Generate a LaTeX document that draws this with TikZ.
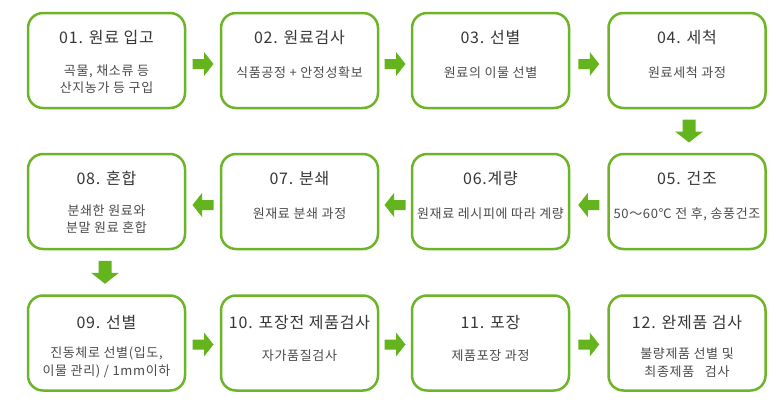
\documentclass[tikz,border=0pt]{standalone}
\usepackage{fontspec}
\setmainfont{Noto Sans CJK KR}
\newfontfamily\ttlfont[LetterSpace=5]{Noto Sans CJK KR}
\newfontfamily\bdyfont[LetterSpace=5]{Noto Sans CJK KR}
\usetikzlibrary{calc}
\definecolor{boxgreen}{RGB}{110,180,40}
\definecolor{arrgreen}{RGB}{100,180,30}
\definecolor{titlegray}{RGB}{55,55,55}
\definecolor{bodygray}{RGB}{75,75,75}
\tikzset{
  stepbox/.style={draw=boxgreen, line width=2.5pt, rounded corners=15pt,
    minimum width=157pt, minimum height=95pt, fill=white, inner sep=0pt},
  steptitle/.style={text=titlegray, font=\ttlfont\fontsize{16}{19}\selectfont, inner sep=0pt},
  stepbody/.style={text=bodygray, font=\bdyfont\fontsize{13}{17.5}\selectfont, align=center, inner sep=0pt},
  rarr/.pic={\fill[arrgreen] (-10.5,-5) -- (1,-5) -- (1,-12) -- (10.5,0) -- (1,12) -- (1,5) -- (-10.5,5) -- cycle;},
  darr/.pic={\fill[arrgreen] (-6.5,-11.5) -- (6.5,-11.5) -- (6.5,0.5) -- (14,0.5) -- (0,11.5) -- (-14,0.5) -- (-6.5,0.5) -- cycle;}
}
\begin{document}
\begin{tikzpicture}[x=1pt,y=-1pt]
\fill[white] (0,0) rectangle (780,405);
\useasboundingbox (0,0) rectangle (780,405);
% boxes
\node[stepbox] (b1) at (106.5,60.5) {};
\node[stepbox] (b2) at (299.5,60.5) {};
\node[stepbox] (b3) at (490.5,60.5) {};
\node[stepbox] (b4) at (687,60.5) {};
\node[stepbox] (b5) at (687,201.5) {};
\node[stepbox] (b6) at (490.5,201.5) {};
\node[stepbox] (b7) at (299.5,201.5) {};
\node[stepbox] (b8) at (106.5,201.5) {};
\node[stepbox] (b9) at (106.5,343) {};
\node[stepbox] (b10) at (299.5,343) {};
\node[stepbox] (b11) at (490.5,343) {};
\node[stepbox] (b12) at (687,343) {};
% titles
\node[steptitle] (t1) at ($(b1.north)+(0,26)$) {01. 원료 입고};
\node[steptitle] (t2) at ($(b2.north)+(0,26)$) {02. 원료검사};
\node[steptitle] (t3) at ($(b3.north)+(0,26)$) {03. 선별};
\node[steptitle] (t4) at ($(b4.north)+(0,26)$) {04. 세척};
\node[steptitle] (t5) at ($(b5.north)+(0,26)$) {05. 건조};
\node[steptitle] (t6) at ($(b6.north)+(0,26)$) {06.계량};
\node[steptitle] (t7) at ($(b7.north)+(0,26)$) {07. 분쇄};
\node[steptitle] (t8) at ($(b8.north)+(0,26)$) {08. 혼합};
\node[steptitle] (t9) at ($(b9.north)+(0,28)$) {09. 선별};
\node[steptitle] (t10) at ($(b10.north)+(0,28)$) {10. 포장전 제품검사};
\node[steptitle] (t11) at ($(b11.north)+(0,28)$) {11. 포장};
\node[steptitle] (t12) at ($(b12.north)+(0,28)$) {12. 완제품 검사};
% bodies
\node[stepbody] (d1) at ($(b1.center)+(0,18.5)$) {곡물, 채소류 등\\산지농가 등 구입};
\node[stepbody] (d2) at ($(b2.center)+(0,12.5)$) {식품공정 + 안정성확보};
\node[stepbody] (d3) at ($(b3.center)+(0,12.5)$) {원료의 이물 선별};
\node[stepbody] (d4) at ($(b4.center)+(0,12.5)$) {원료세척 과정};
\node[stepbody] (d5) at ($(b5.center)+(0,12.5)$) {50～60℃ 전 후, 송풍건조};
\node[stepbody] (d6) at ($(b6.center)+(0,12.5)$) {원재료 레시피에 따라 계량};
\node[stepbody] (d7) at ($(b7.center)+(0,12.5)$) {원재료 분쇄 과정};
\node[stepbody] (d8) at ($(b8.center)+(0,17.5)$) {분쇄한 원료와\\분말 원료 혼합};
\node[stepbody] (d9) at ($(b9.center)+(0,19.5)$) {진동체로 선별(입도,\\이물 관리) / 1mm이하};
\node[stepbody] (d10) at ($(b10.center)+(0,12.5)$) {자가품질검사};
\node[stepbody] (d11) at ($(b11.center)+(0,12.5)$) {제품포장 과정};
\node[stepbody] (d12) at ($(b12.center)+(0,19.5)$) {불량제품 선별 및\\최종제품\ \ \ 검사};
% arrows
\pic at ($(b1.east)!0.5!(b2.west)+(0,3.5)$) {rarr};
\pic at ($(b2.east)!0.5!(b3.west)+(0,3.5)$) {rarr};
\pic at ($(b3.east)!0.5!(b4.west)+(0,3.5)$) {rarr};
\pic at ($(b4.south)!0.5!(b5.north)+(2,0)$) {darr};
\pic[rotate=180] at ($(b5.west)!0.5!(b6.east)+(0,3.5)$) {rarr};
\pic[rotate=180] at ($(b6.west)!0.5!(b7.east)+(0,3.5)$) {rarr};
\pic[rotate=180] at ($(b7.west)!0.5!(b8.east)+(0,3.5)$) {rarr};
\pic at ($(b8.south)!0.5!(b9.north)+(-1.5,0)$) {darr};
\pic at ($(b9.east)!0.5!(b10.west)+(0,1.5)$) {rarr};
\pic at ($(b10.east)!0.5!(b11.west)+(0,1.5)$) {rarr};
\pic at ($(b11.east)!0.5!(b12.west)+(0,1.5)$) {rarr};
\end{tikzpicture}
\end{document}
